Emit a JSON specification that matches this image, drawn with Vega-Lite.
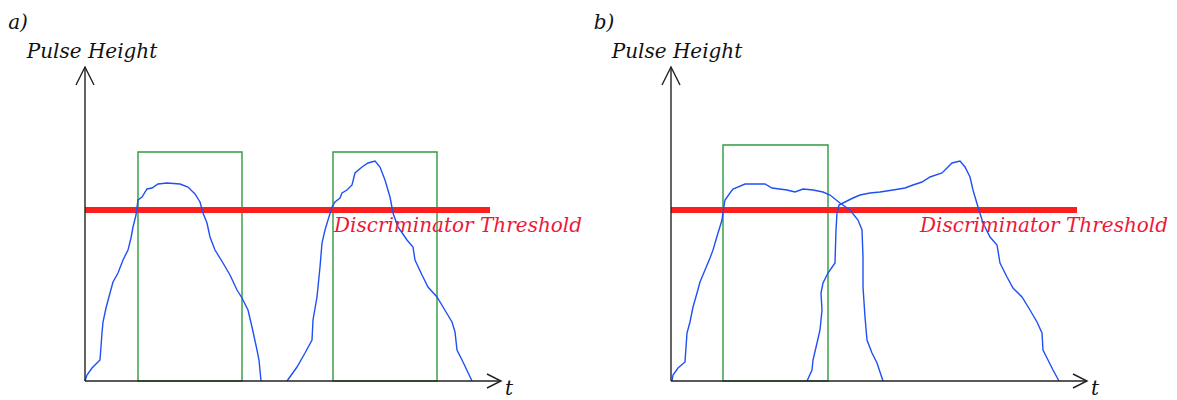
{
  "$schema": "https://vega.github.io/schema/vega-lite/v6.json",
  "padding": 0,
  "spacing": 0,
  "bounds": "flush",
  "background": "white",
  "config": {"view": {"stroke": null}},
  "datasets": {
    "pulses": [
      {"panel":"a","pulse":"a1","i":0,"t":0,"h":0},{"panel":"a","pulse":"a1","i":1,"t":2,"h":6},{"panel":"a","pulse":"a1","i":2,"t":7,"h":13},{"panel":"a","pulse":"a1","i":3,"t":15,"h":21},{"panel":"a","pulse":"a1","i":4,"t":17,"h":48},{"panel":"a","pulse":"a1","i":5,"t":18,"h":59},{"panel":"a","pulse":"a1","i":6,"t":21,"h":73},{"panel":"a","pulse":"a1","i":7,"t":25,"h":88},{"panel":"a","pulse":"a1","i":8,"t":28,"h":99},{"panel":"a","pulse":"a1","i":9,"t":33,"h":108},{"panel":"a","pulse":"a1","i":10,"t":38,"h":121},{"panel":"a","pulse":"a1","i":11,"t":43,"h":131},{"panel":"a","pulse":"a1","i":12,"t":46,"h":143},{"panel":"a","pulse":"a1","i":13,"t":48,"h":154},{"panel":"a","pulse":"a1","i":14,"t":51,"h":166},{"panel":"a","pulse":"a1","i":15,"t":53,"h":181},{"panel":"a","pulse":"a1","i":16,"t":57,"h":184},{"panel":"a","pulse":"a1","i":17,"t":62,"h":192},{"panel":"a","pulse":"a1","i":18,"t":67,"h":193},{"panel":"a","pulse":"a1","i":19,"t":73,"h":197},{"panel":"a","pulse":"a1","i":20,"t":82,"h":198},{"panel":"a","pulse":"a1","i":21,"t":95,"h":197},{"panel":"a","pulse":"a1","i":22,"t":103,"h":194},{"panel":"a","pulse":"a1","i":23,"t":110,"h":187},{"panel":"a","pulse":"a1","i":24,"t":115,"h":179},{"panel":"a","pulse":"a1","i":25,"t":118,"h":168},{"panel":"a","pulse":"a1","i":26,"t":122,"h":158},{"panel":"a","pulse":"a1","i":27,"t":125,"h":144},{"panel":"a","pulse":"a1","i":28,"t":130,"h":131},{"panel":"a","pulse":"a1","i":29,"t":138,"h":118},{"panel":"a","pulse":"a1","i":30,"t":145,"h":106},{"panel":"a","pulse":"a1","i":31,"t":152,"h":91},{"panel":"a","pulse":"a1","i":32,"t":157,"h":83},{"panel":"a","pulse":"a1","i":33,"t":163,"h":71},{"panel":"a","pulse":"a1","i":34,"t":167,"h":54},{"panel":"a","pulse":"a1","i":35,"t":172,"h":31},{"panel":"a","pulse":"a1","i":36,"t":174,"h":21},{"panel":"a","pulse":"a1","i":37,"t":176,"h":0},
      {"panel":"a","pulse":"a2","i":0,"t":202,"h":0},{"panel":"a","pulse":"a2","i":1,"t":212,"h":14},{"panel":"a","pulse":"a2","i":2,"t":220,"h":28},{"panel":"a","pulse":"a2","i":3,"t":227,"h":41},{"panel":"a","pulse":"a2","i":4,"t":228,"h":61},{"panel":"a","pulse":"a2","i":5,"t":232,"h":84},{"panel":"a","pulse":"a2","i":6,"t":235,"h":114},{"panel":"a","pulse":"a2","i":7,"t":237,"h":138},{"panel":"a","pulse":"a2","i":8,"t":240,"h":151},{"panel":"a","pulse":"a2","i":9,"t":243,"h":161},{"panel":"a","pulse":"a2","i":10,"t":247,"h":174},{"panel":"a","pulse":"a2","i":11,"t":250,"h":179},{"panel":"a","pulse":"a2","i":12,"t":255,"h":183},{"panel":"a","pulse":"a2","i":13,"t":257,"h":188},{"panel":"a","pulse":"a2","i":14,"t":262,"h":191},{"panel":"a","pulse":"a2","i":15,"t":267,"h":196},{"panel":"a","pulse":"a2","i":16,"t":270,"h":208},{"panel":"a","pulse":"a2","i":17,"t":277,"h":214},{"panel":"a","pulse":"a2","i":18,"t":283,"h":218},{"panel":"a","pulse":"a2","i":19,"t":290,"h":220},{"panel":"a","pulse":"a2","i":20,"t":295,"h":214},{"panel":"a","pulse":"a2","i":21,"t":300,"h":201},{"panel":"a","pulse":"a2","i":22,"t":305,"h":184},{"panel":"a","pulse":"a2","i":23,"t":308,"h":168},{"panel":"a","pulse":"a2","i":24,"t":313,"h":154},{"panel":"a","pulse":"a2","i":25,"t":322,"h":141},{"panel":"a","pulse":"a2","i":26,"t":328,"h":134},{"panel":"a","pulse":"a2","i":27,"t":330,"h":121},{"panel":"a","pulse":"a2","i":28,"t":337,"h":106},{"panel":"a","pulse":"a2","i":29,"t":343,"h":94},{"panel":"a","pulse":"a2","i":30,"t":352,"h":84},{"panel":"a","pulse":"a2","i":31,"t":358,"h":74},{"panel":"a","pulse":"a2","i":32,"t":367,"h":59},{"panel":"a","pulse":"a2","i":33,"t":370,"h":49},{"panel":"a","pulse":"a2","i":34,"t":372,"h":31},{"panel":"a","pulse":"a2","i":35,"t":378,"h":19},{"panel":"a","pulse":"a2","i":36,"t":387,"h":0},
      {"panel":"b","pulse":"b1","i":0,"t":1,"h":0},{"panel":"b","pulse":"b1","i":1,"t":2,"h":6},{"panel":"b","pulse":"b1","i":2,"t":7,"h":13},{"panel":"b","pulse":"b1","i":3,"t":14,"h":19},{"panel":"b","pulse":"b1","i":4,"t":16,"h":48},{"panel":"b","pulse":"b1","i":5,"t":19,"h":59},{"panel":"b","pulse":"b1","i":6,"t":22,"h":74},{"panel":"b","pulse":"b1","i":7,"t":26,"h":88},{"panel":"b","pulse":"b1","i":8,"t":29,"h":99},{"panel":"b","pulse":"b1","i":9,"t":34,"h":111},{"panel":"b","pulse":"b1","i":10,"t":39,"h":123},{"panel":"b","pulse":"b1","i":11,"t":42,"h":131},{"panel":"b","pulse":"b1","i":12,"t":47,"h":148},{"panel":"b","pulse":"b1","i":13,"t":51,"h":161},{"panel":"b","pulse":"b1","i":14,"t":52,"h":169},{"panel":"b","pulse":"b1","i":15,"t":54,"h":181},{"panel":"b","pulse":"b1","i":16,"t":59,"h":188},{"panel":"b","pulse":"b1","i":17,"t":62,"h":192},{"panel":"b","pulse":"b1","i":18,"t":74,"h":197},{"panel":"b","pulse":"b1","i":19,"t":94,"h":197},{"panel":"b","pulse":"b1","i":20,"t":101,"h":193},{"panel":"b","pulse":"b1","i":21,"t":116,"h":191},{"panel":"b","pulse":"b1","i":22,"t":124,"h":189},{"panel":"b","pulse":"b1","i":23,"t":132,"h":192},{"panel":"b","pulse":"b1","i":24,"t":142,"h":191},{"panel":"b","pulse":"b1","i":25,"t":152,"h":189},{"panel":"b","pulse":"b1","i":26,"t":159,"h":186},{"panel":"b","pulse":"b1","i":27,"t":169,"h":178},{"panel":"b","pulse":"b1","i":28,"t":179,"h":171},{"panel":"b","pulse":"b1","i":29,"t":187,"h":161},{"panel":"b","pulse":"b1","i":30,"t":191,"h":151},{"panel":"b","pulse":"b1","i":31,"t":192,"h":124},{"panel":"b","pulse":"b1","i":32,"t":192,"h":94},{"panel":"b","pulse":"b1","i":33,"t":194,"h":64},{"panel":"b","pulse":"b1","i":34,"t":196,"h":41},{"panel":"b","pulse":"b1","i":35,"t":201,"h":28},{"panel":"b","pulse":"b1","i":36,"t":206,"h":18},{"panel":"b","pulse":"b1","i":37,"t":212,"h":0},
      {"panel":"b","pulse":"b2","i":0,"t":136,"h":0},{"panel":"b","pulse":"b2","i":1,"t":141,"h":11},{"panel":"b","pulse":"b2","i":2,"t":142,"h":21},{"panel":"b","pulse":"b2","i":3,"t":146,"h":38},{"panel":"b","pulse":"b2","i":4,"t":149,"h":51},{"panel":"b","pulse":"b2","i":5,"t":151,"h":71},{"panel":"b","pulse":"b2","i":6,"t":150,"h":88},{"panel":"b","pulse":"b2","i":7,"t":152,"h":98},{"panel":"b","pulse":"b2","i":8,"t":157,"h":108},{"panel":"b","pulse":"b2","i":9,"t":164,"h":118},{"panel":"b","pulse":"b2","i":10,"t":165,"h":151},{"panel":"b","pulse":"b2","i":11,"t":166,"h":168},{"panel":"b","pulse":"b2","i":12,"t":168,"h":176},{"panel":"b","pulse":"b2","i":13,"t":174,"h":179},{"panel":"b","pulse":"b2","i":14,"t":182,"h":183},{"panel":"b","pulse":"b2","i":15,"t":189,"h":186},{"panel":"b","pulse":"b2","i":16,"t":199,"h":188},{"panel":"b","pulse":"b2","i":17,"t":209,"h":189},{"panel":"b","pulse":"b2","i":18,"t":222,"h":191},{"panel":"b","pulse":"b2","i":19,"t":234,"h":193},{"panel":"b","pulse":"b2","i":20,"t":242,"h":196},{"panel":"b","pulse":"b2","i":21,"t":251,"h":199},{"panel":"b","pulse":"b2","i":22,"t":259,"h":204},{"panel":"b","pulse":"b2","i":23,"t":271,"h":208},{"panel":"b","pulse":"b2","i":24,"t":276,"h":213},{"panel":"b","pulse":"b2","i":25,"t":281,"h":218},{"panel":"b","pulse":"b2","i":26,"t":289,"h":220},{"panel":"b","pulse":"b2","i":27,"t":294,"h":214},{"panel":"b","pulse":"b2","i":28,"t":299,"h":204},{"panel":"b","pulse":"b2","i":29,"t":302,"h":191},{"panel":"b","pulse":"b2","i":30,"t":307,"h":174},{"panel":"b","pulse":"b2","i":31,"t":312,"h":158},{"panel":"b","pulse":"b2","i":32,"t":319,"h":144},{"panel":"b","pulse":"b2","i":33,"t":326,"h":136},{"panel":"b","pulse":"b2","i":34,"t":329,"h":118},{"panel":"b","pulse":"b2","i":35,"t":336,"h":104},{"panel":"b","pulse":"b2","i":36,"t":342,"h":93},{"panel":"b","pulse":"b2","i":37,"t":351,"h":84},{"panel":"b","pulse":"b2","i":38,"t":359,"h":71},{"panel":"b","pulse":"b2","i":39,"t":366,"h":59},{"panel":"b","pulse":"b2","i":40,"t":371,"h":48},{"panel":"b","pulse":"b2","i":41,"t":372,"h":31},{"panel":"b","pulse":"b2","i":42,"t":377,"h":21},{"panel":"b","pulse":"b2","i":43,"t":382,"h":11},{"panel":"b","pulse":"b2","i":44,"t":388,"h":0}
    ],
    "gates": [
      {"panel":"a","start":53,"end":157,"top":229},
      {"panel":"a","start":248,"end":352,"top":229},
      {"panel":"b","start":52,"end":157,"top":236}
    ],
    "threshold": [
      {"panel":"a","start":0,"end":405,"level":171,"label":"Discriminator Threshold","labelT":249,"labelH":155},
      {"panel":"b","start":0,"end":406,"level":171,"label":"Discriminator Threshold","labelT":249,"labelH":155}
    ],
    "axes": [
      {"panel":"a","part":"y","i":0,"t":0,"h":0},{"panel":"a","part":"y","i":1,"t":0,"h":314},
      {"panel":"a","part":"yhead","i":0,"t":-9,"h":296},{"panel":"a","part":"yhead","i":1,"t":0,"h":314},{"panel":"a","part":"yhead","i":2,"t":9,"h":296},
      {"panel":"a","part":"x","i":0,"t":0,"h":0},{"panel":"a","part":"x","i":1,"t":416,"h":0},
      {"panel":"a","part":"xhead","i":0,"t":402,"h":7},{"panel":"a","part":"xhead","i":1,"t":416,"h":0},{"panel":"a","part":"xhead","i":2,"t":402,"h":-7},
      {"panel":"b","part":"y","i":0,"t":0,"h":0},{"panel":"b","part":"y","i":1,"t":0,"h":314},
      {"panel":"b","part":"yhead","i":0,"t":-9,"h":296},{"panel":"b","part":"yhead","i":1,"t":0,"h":314},{"panel":"b","part":"yhead","i":2,"t":9,"h":296},
      {"panel":"b","part":"x","i":0,"t":0,"h":0},{"panel":"b","part":"x","i":1,"t":416,"h":0},
      {"panel":"b","part":"xhead","i":0,"t":402,"h":7},{"panel":"b","part":"xhead","i":1,"t":416,"h":0},{"panel":"b","part":"xhead","i":2,"t":402,"h":-7}
    ],
    "labels": [
      {"panel":"a","text":"a)","t":-67,"h":358},
      {"panel":"a","text":"Pulse Height","t":7,"h":329},
      {"panel":"a","text":"t","t":424,"h":-8},
      {"panel":"b","text":"b)","t":-67,"h":358},
      {"panel":"b","text":"Pulse Height","t":6,"h":329},
      {"panel":"b","text":"t","t":424,"h":-8}
    ]
  },
  "hconcat": [
    {
      "width": 586,
      "height": 400,
      "layer": [
        {
          "data": {"name": "gates"},
          "transform": [{"filter": "datum.panel === 'a'"}],
          "mark": {"type": "rect", "filled": false, "stroke": "#2f9a3c", "strokeWidth": 1.4},
          "encoding": {
            "x": {"field": "start", "type": "quantitative", "scale": {"domain": [-85, 501], "nice": false, "zero": false}, "axis": null},
            "x2": {"field": "end"},
            "y": {"field": "top", "type": "quantitative", "scale": {"domain": [-19, 381], "nice": false, "zero": false}, "axis": null},
            "y2": {"datum": 0}
          }
        },
        {
          "data": {"name": "threshold"},
          "transform": [{"filter": "datum.panel === 'a'"}],
          "mark": {"type": "rule", "color": "#ff1e1e", "strokeWidth": 6},
          "encoding": {
            "x": {"field": "start", "type": "quantitative"},
            "x2": {"field": "end"},
            "y": {"field": "level", "type": "quantitative"}
          }
        },
        {
          "data": {"name": "pulses"},
          "transform": [{"filter": "datum.panel === 'a'"}],
          "mark": {"type": "line", "color": "#1f50f5", "strokeWidth": 1.4},
          "encoding": {
            "x": {"field": "t", "type": "quantitative"},
            "y": {"field": "h", "type": "quantitative"},
            "detail": {"field": "pulse"},
            "order": {"field": "i", "type": "quantitative"}
          }
        },
        {
          "data": {"name": "axes"},
          "transform": [{"filter": "datum.panel === 'a'"}],
          "mark": {"type": "line", "color": "#222222", "strokeWidth": 1.4},
          "encoding": {
            "x": {"field": "t", "type": "quantitative"},
            "y": {"field": "h", "type": "quantitative"},
            "detail": {"field": "part"},
            "order": {"field": "i", "type": "quantitative"}
          }
        },
        {
          "data": {"name": "threshold"},
          "transform": [{"filter": "datum.panel === 'a'"}],
          "mark": {"type": "text", "align": "left", "baseline": "middle", "font": "DejaVu Serif", "fontStyle": "italic", "fontSize": 20, "color": "#ee1838"},
          "encoding": {
            "x": {"field": "labelT", "type": "quantitative"},
            "y": {"field": "labelH", "type": "quantitative"},
            "text": {"field": "label"}
          }
        },
        {
          "data": {"name": "labels"},
          "transform": [{"filter": "datum.panel === 'a'"}],
          "mark": {"type": "text", "align": "center", "baseline": "middle", "font": "DejaVu Serif", "fontStyle": "italic", "fontSize": 20, "color": "#111111"},
          "encoding": {
            "x": {"field": "t", "type": "quantitative"},
            "y": {"field": "h", "type": "quantitative"},
            "text": {"field": "text"}
          }
        }
      ]
    },
    {
      "width": 591,
      "height": 400,
      "layer": [
        {
          "data": {"name": "gates"},
          "transform": [{"filter": "datum.panel === 'b'"}],
          "mark": {"type": "rect", "filled": false, "stroke": "#2f9a3c", "strokeWidth": 1.4},
          "encoding": {
            "x": {"field": "start", "type": "quantitative", "scale": {"domain": [-85, 506], "nice": false, "zero": false}, "axis": null},
            "x2": {"field": "end"},
            "y": {"field": "top", "type": "quantitative", "scale": {"domain": [-19, 381], "nice": false, "zero": false}, "axis": null},
            "y2": {"datum": 0}
          }
        },
        {
          "data": {"name": "threshold"},
          "transform": [{"filter": "datum.panel === 'b'"}],
          "mark": {"type": "rule", "color": "#ff1e1e", "strokeWidth": 6},
          "encoding": {
            "x": {"field": "start", "type": "quantitative"},
            "x2": {"field": "end"},
            "y": {"field": "level", "type": "quantitative"}
          }
        },
        {
          "data": {"name": "pulses"},
          "transform": [{"filter": "datum.panel === 'b'"}],
          "mark": {"type": "line", "color": "#1f50f5", "strokeWidth": 1.4},
          "encoding": {
            "x": {"field": "t", "type": "quantitative"},
            "y": {"field": "h", "type": "quantitative"},
            "detail": {"field": "pulse"},
            "order": {"field": "i", "type": "quantitative"}
          }
        },
        {
          "data": {"name": "axes"},
          "transform": [{"filter": "datum.panel === 'b'"}],
          "mark": {"type": "line", "color": "#222222", "strokeWidth": 1.4},
          "encoding": {
            "x": {"field": "t", "type": "quantitative"},
            "y": {"field": "h", "type": "quantitative"},
            "detail": {"field": "part"},
            "order": {"field": "i", "type": "quantitative"}
          }
        },
        {
          "data": {"name": "threshold"},
          "transform": [{"filter": "datum.panel === 'b'"}],
          "mark": {"type": "text", "align": "left", "baseline": "middle", "font": "DejaVu Serif", "fontStyle": "italic", "fontSize": 20, "color": "#ee1838"},
          "encoding": {
            "x": {"field": "labelT", "type": "quantitative"},
            "y": {"field": "labelH", "type": "quantitative"},
            "text": {"field": "label"}
          }
        },
        {
          "data": {"name": "labels"},
          "transform": [{"filter": "datum.panel === 'b'"}],
          "mark": {"type": "text", "align": "center", "baseline": "middle", "font": "DejaVu Serif", "fontStyle": "italic", "fontSize": 20, "color": "#111111"},
          "encoding": {
            "x": {"field": "t", "type": "quantitative"},
            "y": {"field": "h", "type": "quantitative"},
            "text": {"field": "text"}
          }
        }
      ]
    }
  ]
}
